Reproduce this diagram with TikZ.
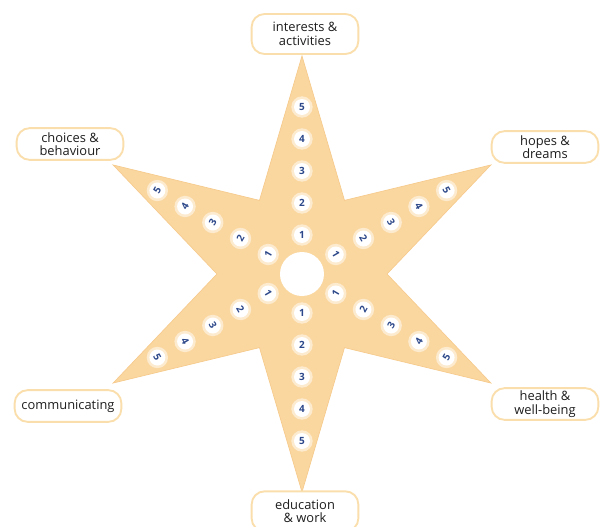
\documentclass[tikz,border=0pt]{standalone}
\usepackage{fontspec}
\setmainfont{Open Sans}
\usepackage{tikz}
\usetikzlibrary{positioning}
\definecolor{starfill}{RGB}{251,215,160}
\definecolor{staredge}{RGB}{246,203,142}
\definecolor{boxedge}{RGB}{250,222,172}
\definecolor{numblue}{RGB}{44,72,138}
\definecolor{labelgrey}{RGB}{30,30,30}

\tikzset{
  area/.style={draw=boxedge, line width=1.6pt, fill=white, rounded corners=11pt,
    text=labelgrey, align=center, minimum width=3.2cm, minimum height=0.95cm,
    inner sep=1pt, font=\fontsize{11}{11.5}\selectfont},
  tallarea/.style={area, minimum height=1.2cm},
  scorenum/.style={text=numblue, font=\fontsize{8.5}{9}\selectfont\bfseries, inner sep=0pt}
}

\begin{document}
\begin{tikzpicture}
      \useasboundingbox (-9.06, -7.59) rectangle (8.97, 8.22);

      % star
      \fill [starfill, draw=staredge, line width=0.6pt] (90:6.54)
        \foreach \a in {90, 150, ..., 390} { -- ({\a}:6.54) -- ({\a+30}:2.55) } -- cycle;
      \fill [white] (0, 0) circle (0.66);

      % scores on each arm
      \foreach \a/\r in {90/0, 30/-60, 150/60, 210/-60, 270/0, 330/60} {
        \foreach \k in {1, ..., 5} {
          \fill [white, opacity=0.5] ({\a}:{1.17 + 0.96*(\k-1)}) circle (0.32);
          \fill [white] ({\a}:{1.17 + 0.96*(\k-1)}) circle (0.24);
          \node [scorenum, rotate=\r] (n-\a-\k) at ({\a}:{1.17 + 0.96*(\k-1)}) {\k};
        }
      }

      % labels
      \node [tallarea] (interests) at (0.09, 7.2) {interests \&\\activities};
      \node [tallarea] (education) at (0.09, -7.12) {education\\\& work};
      \node [area] (choices) at (-6.96, 3.9) {choices \&\\behaviour};
      \node [area] (hopes) at (7.29, 3.81) {hopes \&\\dreams};
      \node [area] (communicating) at (-7.02, -3.96) {communicating};
      \node [area] (health) at (7.29, -3.9) {health \&\\well-being};
    \end{tikzpicture}
\end{document}
